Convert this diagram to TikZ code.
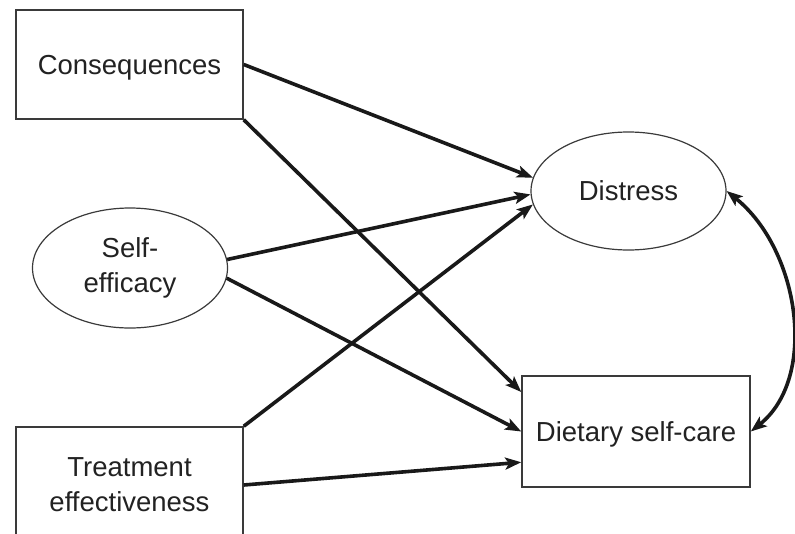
\documentclass[tikz,border=0pt]{standalone}
\usepackage{fontspec}
\setmainfont{Liberation Sans}
\usetikzlibrary{shapes.geometric,arrows.meta}
\definecolor{ink}{HTML}{222222}
\definecolor{edge}{HTML}{3A3A3A}
\begin{document}
\begin{tikzpicture}[x=1pt,y=-1pt,
  lbl/.style={font=\fontsize{27.5}{35}\selectfont, text=ink, align=center, inner sep=0pt},
  boxnode/.style={lbl, draw=edge, line width=1.5pt, rectangle},
  ovalnode/.style={lbl, draw=edge, line width=1.2pt, ellipse},
  path/.style={line width=3.6pt, draw=black!90, -{Stealth[length=16pt,width=12pt,inset=3.5pt]}},
  bothpath/.style={line width=3.6pt, draw=black!90, {Stealth[length=16pt,width=12pt,inset=3.5pt]}-{Stealth[length=16pt,width=12pt,inset=3.5pt]}}
]
\useasboundingbox (0,0) rectangle (795,533);
\clip (0,0) rectangle (795,533);
\node[boxnode, minimum width=227pt, minimum height=109pt, text depth=0pt] (cons) at (129.5,64.5) {Consequences};
\node[ovalnode, minimum width=195pt, minimum height=120pt] (self) at (130,268) {Self-\\efficacy};
\node[boxnode, minimum width=227pt, minimum height=116pt] (treat) at (129.5,485) {Treatment\\effectiveness};
\node[ovalnode, minimum width=195pt, minimum height=118pt, text depth=0pt] (dis) at (628.5,191) {Distress};
\node[boxnode, minimum width=228pt, minimum height=111pt, text depth=0pt] (diet) at (636,431.5) {Dietary self-care};

\draw[path] (cons.east) -- (dis.172);
\draw[path] (cons.south east) -- (diet.161);
\draw[path] (self.5) -- (dis.182);
\draw[path] (self.-6) -- (diet.west);
\draw[path] (treat.north east) -- (dis.188);
\draw[path] (treat.east) -- (diet.195);
\draw[bothpath] (dis.east) .. controls (800,250) and (818,378) .. (diet.east);
\end{tikzpicture}
\end{document}
